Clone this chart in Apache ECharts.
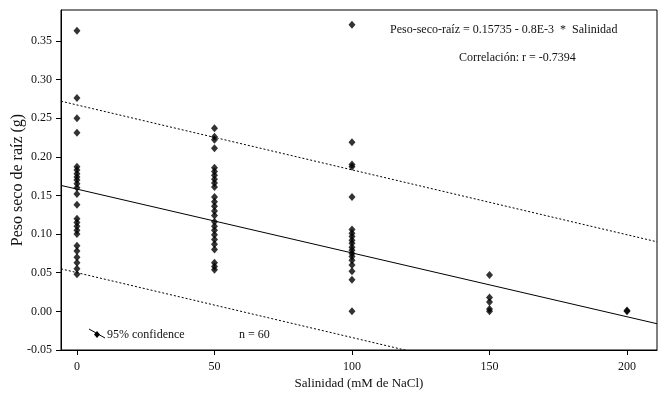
<!DOCTYPE html>
<html>
<head>
<meta charset="utf-8">
<script src="https://cdn.jsdelivr.net/npm/echarts@6/dist/echarts.min.js"></script>
<style>
	html, body { margin: 0; padding: 0; background: #fff; }
	#main { width: 664px; height: 397px; }
</style>
</head>
<body>
<div id="main"></div>
<script>
	// niveles de salinidad (mM NaCl)
	var salinidad = [0, 50, 100, 150, 200];
	// peso seco de raiz (g) por nivel
	var peso0 = [0.363, 0.276, 0.250, 0.231, 0.187, 0.183, 0.178, 0.174, 0.170, 0.165, 0.160, 0.152, 0.138, 0.120, 0.115, 0.110, 0.105, 0.100, 0.085, 0.078, 0.070, 0.063, 0.055, 0.048];
	var peso50 = [0.237, 0.226, 0.222, 0.211, 0.186, 0.181, 0.176, 0.171, 0.166, 0.161, 0.148, 0.142, 0.136, 0.130, 0.124, 0.116, 0.110, 0.105, 0.099, 0.093, 0.087, 0.080, 0.063, 0.058, 0.054];
	var peso100 = [0.371, 0.219, 0.190, 0.187, 0.148, 0.106, 0.101, 0.097, 0.092, 0.088, 0.083, 0.079, 0.075, 0.071, 0.066, 0.060, 0.052, 0.041, 0.000];
	var peso150 = [0.047, 0.018, 0.012, 0.003, 0.000];
	var peso200 = [0.001, 0.000];
	// recta de regresion y bandas de 95% (extremos)
	var rectaX = [-5.8, 210.9];
	var rectaY = [0.163, -0.016];
	var supY = [0.272, 0.090];
	var infY = [0.055, -0.127];
	// marcas de los ejes
	var xTicks = [0, 50, 100, 150, 200];
	var yTicks = [-0.05, 0, 0.05, 0.10, 0.15, 0.20, 0.25, 0.30, 0.35];

	var grupos = [peso0, peso50, peso100, peso150, peso200];
	var puntos = [];
	grupos.forEach(function (arr, i) {
		arr.forEach(function (v) { puntos.push([salinidad[i], v]); });
	});

	var fuente = '"Liberation Serif", "Times New Roman", serif';
	var myChart = echarts.init(document.getElementById('main'));
	var option = {
		animation: false,
		grid: {
			left: 61, right: 7, top: 10, bottom: 47,
			outerBoundsMode: 'none',
			show: true, borderColor: '#000', borderWidth: 1
		},
		xAxis: {
			type: 'value',
			min: -5.8,
			max: 210.9,
			name: 'Salinidad (mM de NaCl)',
			nameLocation: 'middle',
			nameGap: 27,
			nameMoveOverlap: false,
			nameTextStyle: { fontFamily: fuente, fontSize: 13, color: '#111' },
			axisLine: { show: true, onZero: false, lineStyle: { color: '#000' } },
			axisTick: { show: true, length: 5, customValues: xTicks, lineStyle: { color: '#000' } },
			axisLabel: { customValues: xTicks, fontFamily: fuente, fontSize: 12, color: '#111', margin: 11 },
			splitLine: { show: false }
		},
		yAxis: {
			type: 'value',
			min: -0.05,
			max: 0.39,
			name: 'Peso seco de raíz (g)',
			nameLocation: 'middle',
			nameGap: 35,
			nameMoveOverlap: false,
			nameTextStyle: { fontFamily: fuente, fontSize: 16, color: '#111' },
			axisLine: { show: true, onZero: false, lineStyle: { color: '#000' } },
			axisTick: { show: true, length: 5, customValues: yTicks, lineStyle: { color: '#000' } },
			axisLabel: {
				customValues: yTicks,
				fontFamily: fuente, fontSize: 12, color: '#111', margin: 9,
				formatter: function (v) { return v.toFixed(2); }
			},
			splitLine: { show: false }
		},
		series: [
			{
				type: 'scatter',
				data: puntos,
				symbol: 'diamond',
				symbolSize: [7, 8],
				itemStyle: { color: '#000' }
			},
			{
				type: 'line',
				data: rectaX.map(function (x, i) { return [x, rectaY[i]]; }),
				showSymbol: false,
				lineStyle: { color: '#000', width: 1 }
			},
			{
				type: 'line',
				data: rectaX.map(function (x, i) { return [x, supY[i]]; }),
				showSymbol: false,
				lineStyle: { color: '#000', width: 1, type: [2, 2] }
			},
			{
				type: 'line',
				data: rectaX.map(function (x, i) { return [x, infY[i]]; }),
				showSymbol: false,
				clip: true,
				lineStyle: { color: '#000', width: 1, type: [2, 2] }
			}
		],
		graphic: [
			{
				type: 'text', left: 390, top: 24,
				style: { text: 'Peso-seco-raíz = 0.15735 - 0.8E-3  *  Salinidad', font: '12px ' + fuente, fill: '#111' }
			},
			{
				type: 'text', left: 459, top: 52,
				style: { text: 'Correlación: r = -0.7394', font: '12px ' + fuente, fill: '#111' }
			},
			{
				type: 'line',
				shape: { x1: 89, y1: 329, x2: 105, y2: 338 },
				style: { stroke: '#000', lineWidth: 1 }
			},
			{
				type: 'polygon',
				shape: { points: [[97, 331], [100, 334.5], [97, 338], [94, 334.5]] },
				style: { fill: '#000' }
			},
			{
				type: 'text', left: 107, top: 329,
				style: { text: '95% confidence', font: '12px ' + fuente, fill: '#111' }
			},
			{
				type: 'text', left: 239, top: 329,
				style: { text: 'n = 60', font: '12px ' + fuente, fill: '#111' }
			}
		]
	};
	myChart.setOption(option);
</script>
</body>
</html>
